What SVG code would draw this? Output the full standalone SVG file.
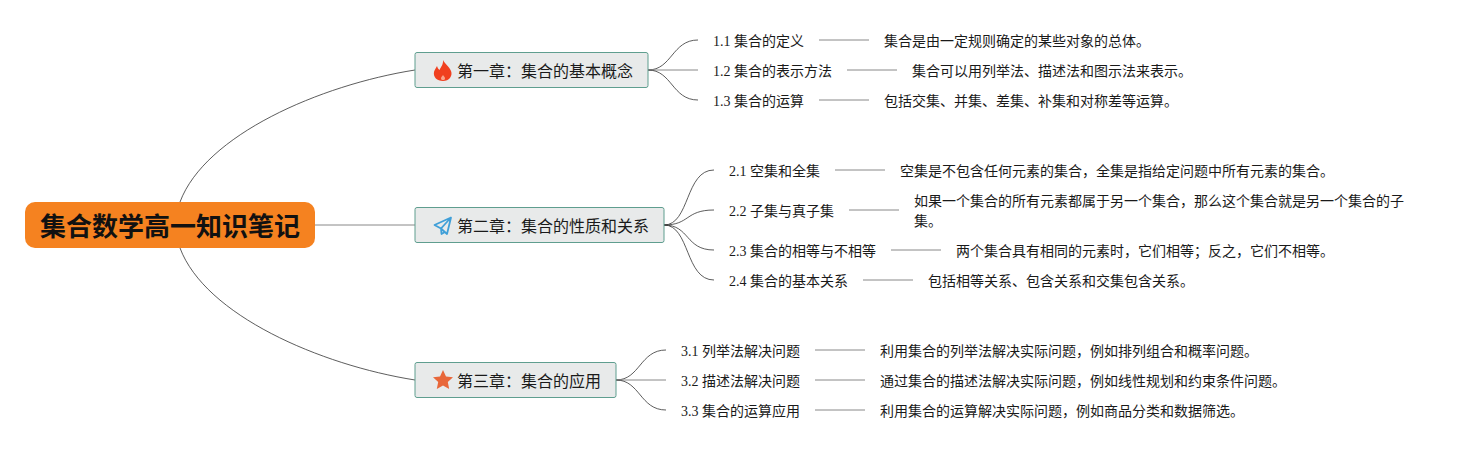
<svg xmlns="http://www.w3.org/2000/svg" width="1474" height="450" viewBox="0 0 1474 450">
<style>
text{font-family:"Liberation Serif","Noto Sans CJK SC",serif;fill:#1a1a1a}
.r{font-size:26px;font-weight:700;fill:#111}
.t{font-size:16px}
.s,.d{font-size:14px}
.c{fill:none;stroke:#333;stroke-width:.8}
.l{fill:none;stroke:#888;stroke-width:1}
.b{fill:#e8eaea;stroke:#5f9e8f;stroke-width:1}
</style>
<rect width="1474" height="450" fill="#fff"/>
<g id="connectors">
<path class="c" d="M180 202C205 135 320 85 415 70"/>
<path class="c" d="M180 248C205 315 320 365 415 380"/>
<path class="l" d="M315 225H415"/>
<path class="c" d="M648 70C672 70 672 40 698 40"/>
<path class="l" d="M648 70H698"/>
<path class="c" d="M648 70C672 70 672 100 698 100"/>
<path class="c" d="M664 225C690 225 685 170 714 170"/>
<path class="c" d="M664 225C690 225 685 210 714 210"/>
<path class="c" d="M664 225C690 225 685 250 714 250"/>
<path class="c" d="M664 225C690 225 685 280 714 280"/>
<path class="c" d="M616 380C640 380 640 350 666 350"/>
<path class="l" d="M616 380H666"/>
<path class="c" d="M616 380C640 380 640 410 666 410"/>
<path class="l" d="M819 40H869M847 70H897M819 100H869M835 170H885M849 210H899M891 250H941M863 280H913M815 350H865M815 380H865M815 410H865"/>
</g>
<g id="root"><rect x="25" y="202" width="290" height="46" rx="10" fill="#f58220"/><text class="r" x="40" y="236">集合数学高一知识笔记</text></g>
<g id="ch1"><rect class="b" x="415" y="52.500" width="233" height="35" rx="2"/>
<path fill="#f0401f" d="M443 60C445 64 449 66 451 71C453 76 449 81 443 81C437 81 433 77 434 72C434.500 70 436 68 437 66C437.500 68 438.500 69 439.500 70C441 67 443.500 64 443 60Z"/>
<path fill="#f8a58c" d="M443 75C442 76.500 441 77 441 78.500C441 79.500 442 80 443 80C444 80 445 79.500 445 78.500C445 77 444 76.500 443 75Z"/>
<text class="t" x="457" y="77">第一章：集合的基本概念</text></g>
<g id="ch2"><rect class="b" x="415" y="207.500" width="249" height="35" rx="2"/>
<path fill="none" stroke="#3f9fd8" stroke-width="1.800" stroke-linejoin="round" d="M451 217.500L434.500 225L441 228.500L447 234ZM451 217.500L441 228.500L441.500 234L445 232"/>
<text class="t" x="457" y="232">第二章：集合的性质和关系</text></g>
<g id="ch3"><rect class="b" x="415" y="362.500" width="201" height="35" rx="2"/>
<path fill="#e8673a" d="M443 370L446 376.500L453 377.300L447.800 382L449.200 389L443 385.500L436.800 389L438.200 382L433 377.300L440 376.500Z"/>
<text class="t" x="457" y="387">第三章：集合的应用</text></g>
<g id="n11"><text class="s" x="713" y="46">1.1 集合的定义</text></g>
<g id="n12"><text class="s" x="713" y="76">1.2 集合的表示方法</text></g>
<g id="n13"><text class="s" x="713" y="106">1.3 集合的运算</text></g>
<g id="d11"><text class="d" x="884" y="46">集合是由一定规则确定的某些对象的总体。</text></g>
<g id="d12"><text class="d" x="912" y="76">集合可以用列举法、描述法和图示法来表示。</text></g>
<g id="d13"><text class="d" x="884" y="106">包括交集、并集、差集、补集和对称差等运算。</text></g>
<g id="n21"><text class="s" x="729" y="176">2.1 空集和全集</text></g>
<g id="n22"><text class="s" x="729" y="216">2.2 子集与真子集</text></g>
<g id="n23"><text class="s" x="729" y="256">2.3 集合的相等与不相等</text></g>
<g id="n24"><text class="s" x="729" y="286">2.4 集合的基本关系</text></g>
<g id="d21"><text class="d" x="900" y="176">空集是不包含任何元素的集合，全集是指给定问题中所有元素的集合。</text></g>
<g id="d22"><text class="d" x="914" y="206">如果一个集合的所有元素都属于另一个集合，那么这个集合就是另一个集合的子</text><text class="d" x="914" y="226">集。</text></g>
<g id="d23"><text class="d" x="956" y="256">两个集合具有相同的元素时，它们相等；反之，它们不相等。</text></g>
<g id="d24"><text class="d" x="928" y="286">包括相等关系、包含关系和交集包含关系。</text></g>
<g id="n31"><text class="s" x="681" y="356">3.1 列举法解决问题</text></g>
<g id="n32"><text class="s" x="681" y="386">3.2 描述法解决问题</text></g>
<g id="n33"><text class="s" x="681" y="416">3.3 集合的运算应用</text></g>
<g id="d31"><text class="d" x="880" y="356">利用集合的列举法解决实际问题，例如排列组合和概率问题。</text></g>
<g id="d32"><text class="d" x="880" y="386">通过集合的描述法解决实际问题，例如线性规划和约束条件问题。</text></g>
<g id="d33"><text class="d" x="880" y="416">利用集合的运算解决实际问题，例如商品分类和数据筛选。</text></g>
</svg>
